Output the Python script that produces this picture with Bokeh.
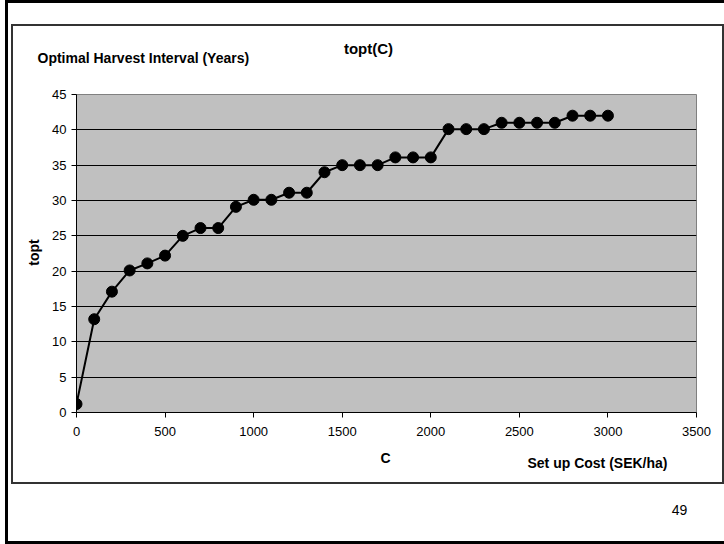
import math
from bokeh.plotting import figure
from bokeh.models import Range1d, FixedTicker, Label, ColumnDataSource
from bokeh.embed import file_html
from bokeh.resources import INLINE

# ---- data ----
cost = [0, 100, 200, 300, 400, 500, 600, 700, 800, 900, 1000,
        1100, 1200, 1300, 1400, 1500, 1600, 1700, 1800, 1900, 2000,
        2100, 2200, 2300, 2400, 2500, 2600, 2700, 2800, 2900, 3000]
topt = [1.2, 13.2, 17.1, 20.1, 21.1, 22.2, 25.0, 26.1, 26.1, 29.1, 30.1,
        30.1, 31.1, 31.1, 34.0, 35.0, 35.0, 35.0, 36.1, 36.1, 36.1,
        40.1, 40.1, 40.1, 41.0, 41.0, 41.0, 41.0, 42.0, 42.0, 42.0]
x_ticks = [0, 500, 1000, 1500, 2000, 2500, 3000, 3500]
y_ticks = [0, 5, 10, 15, 20, 25, 30, 35, 40, 45]
grid_ticks = [5, 10, 15, 20, 25, 30, 35, 40]

FONT = "Liberation Sans"
W, H = 724, 544
FL, FR, FT, FB = 76, 696, 94, 412   # frame pixel box
XMAX, YMAX = 3500, 45

# page frames (outer black, inner dark grey) drawn as CSS background lines behind a transparent border
def css_line(color, x, y, w, h):
    return f"linear-gradient({color},{color}) {x}px {y}px / {w}px {h}px no-repeat"

frame_css = ", ".join([
    css_line("#000000", 5, 0, 719, 3),
    css_line("#000000", 5, 0, 3, 544),
    css_line("#000000", 5, 541, 719, 3),
    css_line("#333333", 11, 24, 713, 2),
    css_line("#333333", 11, 24, 2, 460),
    css_line("#333333", 722, 24, 2, 460),
    css_line("#333333", 11, 482, 713, 2),
])

p = figure(width=W, height=H, output_backend="svg", toolbar_location=None,
           x_range=Range1d(0, XMAX), y_range=Range1d(0, YMAX),
           min_border_left=FL, min_border_right=W - FR,
           min_border_top=FT, min_border_bottom=H - FB,
           styles={"background": frame_css})
p.background_fill_color = "#C0C0C0"
p.border_fill_color = None
p.outline_line_color = "#808080"
p.outline_line_width = 1

# axes
for ax in (p.xaxis[0], p.yaxis[0]):
    ax.axis_line_color = "black"
    ax.axis_line_width = 1
    ax.major_tick_line_color = "black"
    ax.major_tick_out = 5
    ax.major_tick_in = 0
    ax.minor_tick_line_color = None
    ax.major_label_text_font = FONT
    ax.major_label_text_font_size = "13px"
    ax.major_label_text_color = "black"
p.xaxis[0].ticker = FixedTicker(ticks=x_ticks)
p.yaxis[0].ticker = FixedTicker(ticks=y_ticks)
p.xaxis[0].major_label_standoff = 9
p.yaxis[0].major_label_standoff = 5

p.xgrid.visible = False
p.ygrid[0].ticker = FixedTicker(ticks=grid_ticks)
p.ygrid[0].grid_line_color = "black"
p.ygrid[0].grid_line_width = 1
p.ygrid[0].grid_line_alpha = 1

src = ColumnDataSource(dict(x=cost, y=topt))
p.line("x", "y", source=src, line_color="black", line_width=2)
p.scatter("x", "y", source=src, size=11, fill_color="black", line_color="black")

# texts: labels in side panels (canvas units, origin top-left) so they are not clipped
def lab(text, px, py, size, place, bold=True, align="center", angle=0.0):
    p.add_layout(Label(x=px, y=py, x_units="canvas", y_units="canvas",
                       text=text, text_font=FONT,
                       text_font_size=size, text_font_style="bold" if bold else "normal",
                       text_align=align, text_baseline="middle", text_color="black",
                       angle=angle), place)

lab("Optimal Harvest Interval (Years)", 37, 57, "14px", "above", align="left")
lab("topt(C)", 368, 48, "15px", "above")
lab("topt", 33, 252, "14px", "above", angle=math.pi / 2)
lab("C", 385, 457, "14px", "below")
lab("Set up Cost (SEK/ha)", 667, 462, "14px", "below", align="right")
lab("49", 679, 509, "14px", "below", bold=False)

open("out.html", "w").write(file_html(p, INLINE))
